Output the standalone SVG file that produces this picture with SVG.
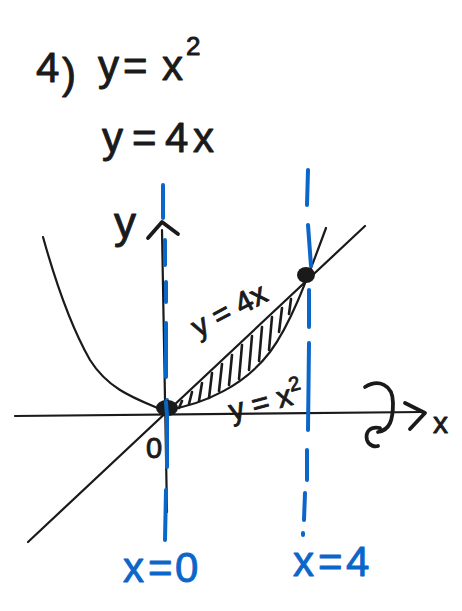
<svg xmlns="http://www.w3.org/2000/svg" width="462" height="611" viewBox="0 0 462 611">
<style>
.ink{fill:none;stroke:#1a1a1a;stroke-linecap:round;stroke-linejoin:round}
.thin{stroke-width:2.2}
.thick{stroke-width:3.8}
.blue{fill:none;stroke:#0b66c9;stroke-width:4;stroke-linecap:round}
.hw{font-family:"Liberation Sans","DejaVu Sans",sans-serif;fill:#1a1a1a;stroke:#1a1a1a;stroke-width:0.9;stroke-linejoin:round}
.hwb{font-family:"Liberation Sans","DejaVu Sans",sans-serif;fill:#0b66c9;stroke:#0b66c9;stroke-width:0.9;stroke-linejoin:round}
</style>
<rect width="462" height="611" fill="#ffffff"/>

<g id="title">
  <text class="hw" font-size="42"><tspan x="36" y="82">4</tspan><tspan x="62" y="88">)</tspan><tspan x="98" y="80">y</tspan><tspan x="123" y="80">=</tspan><tspan x="162" y="80">x</tspan><tspan x="186" y="55" font-size="26">2</tspan></text>
  <text class="hw" font-size="42"><tspan x="102" y="152">y</tspan><tspan x="132" y="152">=</tspan><tspan x="165" y="152">4</tspan><tspan x="193" y="152">x</tspan></text>
</g>

<g id="axes">
  <line class="ink thin" x1="15" y1="416" x2="422" y2="412"/>
  <polyline class="ink thick" points="405,403 425,413 410,429"/>
  <line class="ink thin" x1="162" y1="230" x2="167" y2="512"/>
  <polyline class="ink thick" points="148,238 162,222 178,234"/>
  <text class="hw" font-size="30" x="433" y="433">x</text>
  <text class="hw" font-size="44" x="114" y="238">y</text>
  <text class="hw" font-size="29" x="146" y="458">0</text>
  <path class="ink thick" d="M365,387 C378,379 393,384 393,403 C393,420 390,430 378,432 M380,428 C370,426 365,432 367,440 C369,446 375,447 378,446"/>
</g>

<g id="curves">
  <line class="ink thin" x1="28" y1="542" x2="365" y2="226"/>
  <path class="ink thin" d="M167,410 C205,404 245,385 270,352 C290,325 305,285 326,228"/>
  <path class="ink thin" d="M167,412 C140,400 110,392 90,360 C70,325 55,280 43,237"/>
  <path class="ink" stroke-width="2.6" d="M182,401 L179,408 M192,392 L189,404 M202,383 L199,401 M212,373 L209,398 M222,364 L219,391 M232,355 L229,385 M242,345 L239,379 M252,336 L249,370 M262,327 L259,361 M272,317 L269,350 M282,308 L279,332 M291,299 L289,314"/>
</g>

<g id="boundaries">
  <path class="blue" d="M163,185 L163,218 M165,240 L165,265 M166,282 L166,302 M166,323 L166,377 M167,400 L167,467 M166,490 L165,540"/>
  <path class="blue" d="M308,170 L307,205 M308,225 L311,266 M309,290 L309,327 M309,343 L308,430 M307,450 L307,480 M305,493 L304,520 M303,533 L303,535"/>
  <text class="hwb" font-size="42"><tspan x="123" y="582">x</tspan><tspan x="148" y="582">=</tspan><tspan x="175" y="582">0</tspan></text>
  <text class="hwb" font-size="42"><tspan x="293" y="576">x</tspan><tspan x="318" y="576">=</tspan><tspan x="346" y="576">4</tspan></text>
</g>

<g id="points">
  <ellipse cx="167" cy="408" rx="11" ry="8" fill="#1a1a1a"/>
  <ellipse cx="306" cy="275" rx="9" ry="8" fill="#1a1a1a"/>
  <line class="blue" x1="166" y1="402" x2="167" y2="416"/>
</g>

<g id="labels">
  <text class="hw" font-size="30" transform="translate(198,338) rotate(-28)">y = 4x</text>
  <text class="hw" font-size="30" transform="translate(232,421) rotate(-15)">y = x<tspan font-size="20" dy="-13">2</tspan></text>
</g>
</svg>
